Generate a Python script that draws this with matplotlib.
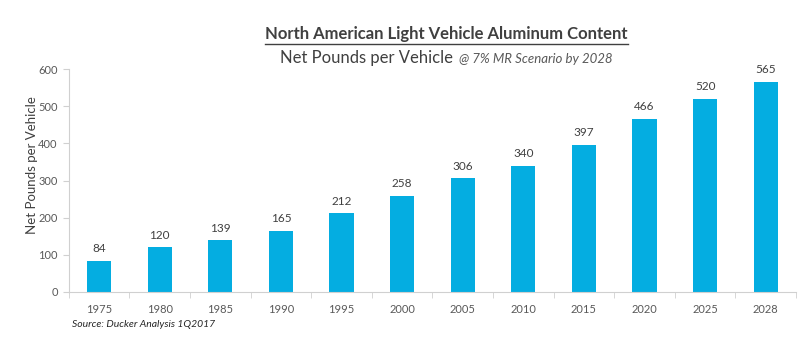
import numpy as np
import matplotlib.pyplot as plt
from matplotlib.lines import Line2D

plt.rcParams['font.family'] = ['Lato', 'DejaVu Sans']

years = ['1975', '1980', '1985', '1990', '1995', '2000', '2005', '2010',
         '2015', '2020', '2025', '2028']
pounds = [84, 120, 139, 165, 212, 258, 306, 340, 397, 466, 520, 565]

bar_color = '#04ADE1'
text_color = '#404040'
axis_color = '#D0D0D0'

fig = plt.figure(figsize=(8, 3.39), dpi=100)
ax = fig.add_axes([0.086, 0.139, 0.909, 0.657])

x = np.arange(len(years))
bars = ax.bar(x, pounds, width=0.4, color=bar_color, zorder=2)

# value labels above the bars
for xi, v in zip(x, pounds):
    ax.text(xi, v + 18, str(v), ha='center', va='bottom',
            fontsize=8.5, color=text_color)

ax.set_xlim(-0.5, len(years) - 0.5)
ax.set_ylim(0, 600)
ax.set_yticks(range(0, 601, 100))
ax.set_xticks(x)
ax.set_xticklabels(years)
ax.set_xticks(np.arange(-0.5, len(years), 1), minor=True)
ax.tick_params(axis='x', which='major', length=0, pad=9,
               labelsize=8, labelcolor='#595959')
ax.tick_params(axis='x', which='minor', length=4, color=axis_color)
ax.tick_params(axis='y', length=4, color=axis_color, pad=4,
               labelsize=8, labelcolor='#595959')

for side in ['top', 'right']:
    ax.spines[side].set_visible(False)
ax.spines['left'].set_color(axis_color)
ax.spines['bottom'].set_color(axis_color)

ax.set_ylabel('Net Pounds per Vehicle', fontsize=9.5, color=text_color)
ax.yaxis.set_label_coords(-0.043, 0.57)

# titles
title = fig.text(0.558, 0.875, 'North American Light Vehicle Aluminum Content',
                 ha='center', va='bottom', fontsize=12, fontweight='bold',
                 color=text_color)
fig.canvas.draw()
bb = title.get_window_extent().transformed(fig.transFigure.inverted())
fig.add_artist(Line2D([bb.x0, bb.x1], [bb.y0 - 0.004, bb.y0 - 0.004],
                      color=text_color, lw=1.0, transform=fig.transFigure))

sub1 = fig.text(0.35, 0.805, 'Net Pounds per Vehicle', ha='left', va='bottom',
                fontsize=12, color=text_color)
fig.canvas.draw()
sb = sub1.get_window_extent().transformed(fig.transFigure.inverted())
fig.text(sb.x1 + 0.007, 0.807, '@ 7% MR Scenario by 2028', ha='left', va='bottom',
         fontsize=9.5, style='italic', color='#595959')

fig.text(0.09, 0.03, 'Source: Ducker Analysis 1Q2017', ha='left', va='bottom',
         fontsize=7.5, style='italic', color='#262626')

fig.savefig('out.png', dpi=100)
